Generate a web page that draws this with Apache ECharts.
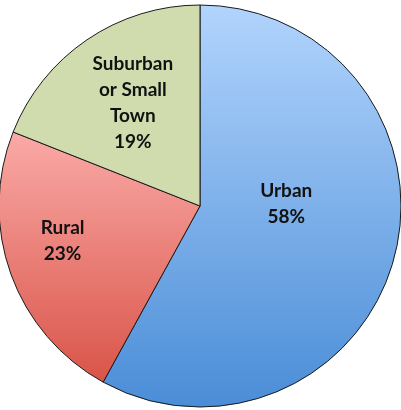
<!DOCTYPE html>
<html><head><meta charset="utf-8">
<script src="https://cdn.jsdelivr.net/npm/echarts@6/dist/echarts.min.js"></script>
<style>html,body{margin:0;padding:0;background:#fff}#c{width:401px;height:410px}</style>
</head><body><div id="c"></div>
<script>
const categories = ['Urban', 'Rural', 'Suburban\nor Small\nTown'];
const values = [58, 23, 19];
const topColors = ['#b2d4fd', '#faaaa7', '#d0dcae'];
const bottomColors = ['#4a8dd7', '#d95448', '#d0dcae'];
const labelShift = [[-14, -28], [-40, 0], [-9, -18]];

const chart = echarts.init(document.getElementById('c'), null, {renderer: 'canvas'});
chart.setOption({
  animation: false,
  series: [{
    type: 'pie',
    center: [200, 206],
    radius: [0, 201],
    startAngle: 90,
    clockwise: true,
    label: {
      show: true,
      position: 'inside',
      formatter: p => p.name + '\n' + p.value + '%',
      fontFamily: 'Lato, "Open Sans", sans-serif',
      fontWeight: 'bold',
      fontSize: 19,
      lineHeight: 26,
      color: '#111',
      align: 'center'
    },
    labelLine: {show: false},
    labelLayout: function (p) {
      const s = labelShift[p.dataIndex];
      return {dx: s[0], dy: s[1]};
    },
    emphasis: {disabled: true},
    itemStyle: {borderColor: '#1a1a1a', borderWidth: 1},
    data: categories.map((c, i) => ({
      name: c,
      value: values[i],
      itemStyle: {
        color: new echarts.graphic.LinearGradient(0, 0, 0, 1, [
          {offset: 0, color: topColors[i]},
          {offset: 1, color: bottomColors[i]}
        ])
      }
    }))
  }]
});
</script></body></html>
